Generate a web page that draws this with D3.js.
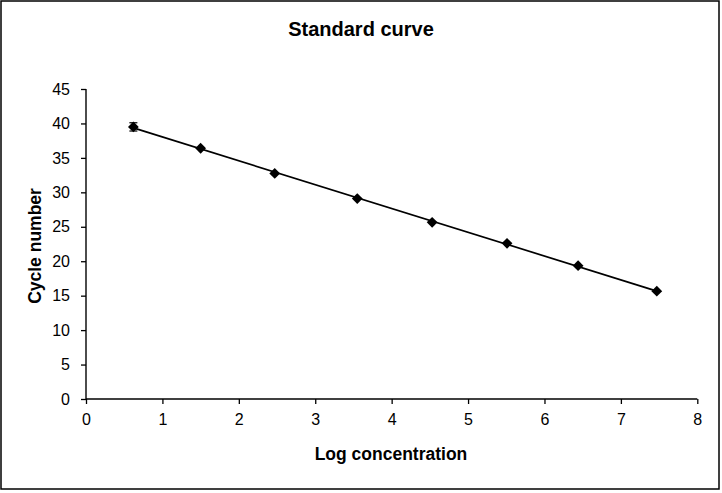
<!DOCTYPE html>
<html>
<head>
<meta charset="utf-8">
<script src="https://cdn.jsdelivr.net/npm/d3@7"></script>
<style>
  html, body { margin: 0; padding: 0; background: #fff; }
  svg { display: block; }
  text { font-family: "Liberation Sans", Arial, sans-serif; fill: #000; }
</style>
</head>
<body>
<script>
const logConc = [0.62, 1.50, 2.47, 3.55, 4.53, 5.51, 6.44, 7.47];
const cycleNumber = [39.5, 36.4, 32.75, 29.1, 25.65, 22.6, 19.35, 15.65];
const errorBars = [0.6, 0, 0, 0, 0, 0, 0, 0];
const xTicks = [0, 1, 2, 3, 4, 5, 6, 7, 8];
const yTicks = [0, 5, 10, 15, 20, 25, 30, 35, 40, 45];

const W = 722, H = 493;
const svg = d3.select("body").append("svg").attr("width", W).attr("height", H);

svg.append("rect").attr("x", 1).attr("y", 1).attr("width", 718).attr("height", 488)
  .attr("fill", "#fff").attr("stroke", "#000").attr("stroke-width", 1.5);

const x = d3.scaleLinear().domain([0, 8]).range([86, 697.3]);
const y = d3.scaleLinear().domain([0, 45]).range([399, 89]);

// axes
const xAxis = d3.axisBottom(x).tickValues(xTicks).tickSize(5).tickPadding(10).tickFormat(d3.format("d"));
const yAxis = d3.axisLeft(y).tickValues(yTicks).tickSize(5).tickPadding(11).tickFormat(d3.format("d"));

const gx = svg.append("g").attr("transform", `translate(0,${y(0)})`).call(xAxis);
const gy = svg.append("g").attr("transform", `translate(${x(0)},0)`).call(yAxis);
[gx, gy].forEach(g => {
  g.select(".domain").attr("stroke", "#000").attr("stroke-width", 1.4);
  g.selectAll(".tick line").attr("stroke", "#000").attr("stroke-width", 1.3);
  g.selectAll(".tick text").style("font-family", "'Liberation Sans', Arial, sans-serif")
    .style("font-size", "16px").attr("fill", "#000");
});
gx.select(".domain").attr("d", `M${x(0)},0H${x(8)}`);
gy.select(".domain").attr("d", `M0,${y(0)}V${y(45)}`);

// linear regression trendline
const n = logConc.length;
const mx = d3.mean(logConc), my = d3.mean(cycleNumber);
let sxy = 0, sxx = 0;
for (let i = 0; i < n; i++) { sxy += (logConc[i]-mx)*(cycleNumber[i]-my); sxx += (logConc[i]-mx)**2; }
const slope = sxy / sxx, intercept = my - slope * mx;
const x0 = d3.min(logConc), x1 = d3.max(logConc);
svg.append("line")
  .attr("x1", x(x0)).attr("y1", y(intercept + slope * x0))
  .attr("x2", x(x1)).attr("y2", y(intercept + slope * x1))
  .attr("stroke", "#000").attr("stroke-width", 1.7);

// error bars
const data = logConc.map((v, i) => ({x: v, y: cycleNumber[i], e: errorBars[i]}));
const eb = svg.append("g").selectAll("g").data(data.filter(d => d.e > 0)).join("g");
eb.append("line").attr("x1", d => x(d.x)).attr("x2", d => x(d.x))
  .attr("y1", d => y(d.y + d.e)).attr("y2", d => y(d.y - d.e)).attr("stroke", "#000").attr("stroke-width", 1.2);
eb.append("line").attr("x1", d => x(d.x) - 4).attr("x2", d => x(d.x) + 4)
  .attr("y1", d => y(d.y + d.e)).attr("y2", d => y(d.y + d.e)).attr("stroke", "#000").attr("stroke-width", 1.2);
eb.append("line").attr("x1", d => x(d.x) - 4).attr("x2", d => x(d.x) + 4)
  .attr("y1", d => y(d.y - d.e)).attr("y2", d => y(d.y - d.e)).attr("stroke", "#000").attr("stroke-width", 1.2);

// diamond markers
const r = 5.4;
svg.append("g").selectAll("path").data(data).join("path")
  .attr("d", d => { const cx = x(d.x), cy = y(d.y); return `M${cx},${cy-r}L${cx+r},${cy}L${cx},${cy+r}L${cx-r},${cy}Z`; })
  .attr("fill", "#000");

// titles
svg.append("text").attr("x", 361).attr("y", 36).attr("text-anchor", "middle")
  .style("font-size", "20px").style("font-weight", "bold").text("Standard curve");
svg.append("text").attr("x", 391).attr("y", 460).attr("text-anchor", "middle")
  .style("font-size", "17.5px").style("font-weight", "bold").text("Log concentration");
svg.append("text").attr("transform", "translate(41,246) rotate(-90)").attr("text-anchor", "middle")
  .style("font-size", "17.5px").style("font-weight", "bold").text("Cycle number");
</script>
</body>
</html>
